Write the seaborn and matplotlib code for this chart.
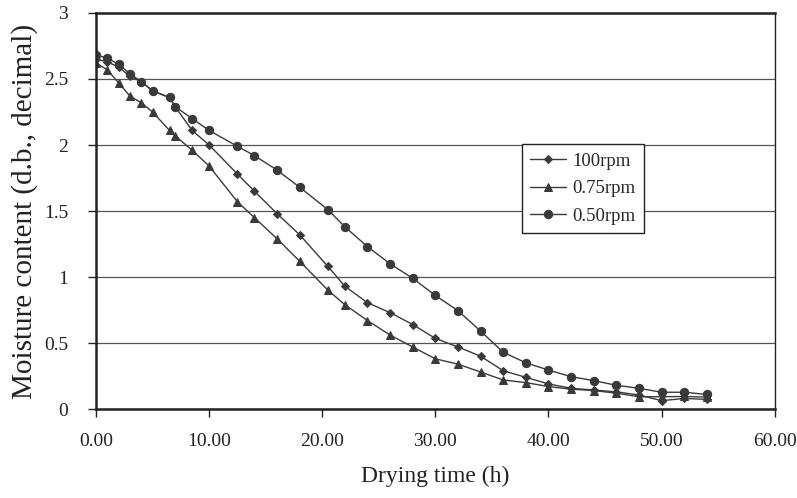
import matplotlib
matplotlib.use("Agg")
import matplotlib.pyplot as plt
import seaborn as sns
import pandas as pd
import numpy as np

# ---- data ----
time_h = [0, 1, 2, 3, 4, 5, 6.5, 7, 8.5, 10, 12.5, 14, 16, 18, 20.5, 22, 24, 26,
          28, 30, 32, 34, 36, 38, 40, 42, 44, 46, 48, 50, 52, 54]
rpm100 = [2.65, 2.63, 2.59, 2.52, 2.48, 2.41, 2.36, 2.29, 2.11, 2.00, 1.78, 1.65,
          1.48, 1.32, 1.08, 0.93, 0.805, 0.73, 0.64, 0.535, 0.47, 0.40, 0.29, 0.24,
          0.19, 0.157, 0.144, 0.13, 0.106, 0.063, 0.08, 0.073]
rpm075 = [2.62, 2.57, 2.47, 2.37, 2.32, 2.25, 2.11, 2.07, 1.96, 1.84, 1.57, 1.45,
          1.29, 1.12, 0.90, 0.79, 0.67, 0.56, 0.47, 0.38, 0.34, 0.28, 0.22, 0.20,
          0.17, 0.15, 0.14, 0.12, 0.093, 0.093, 0.095, 0.09]
rpm050 = [2.68, 2.66, 2.61, 2.54, 2.48, 2.41, 2.36, 2.29, 2.20, 2.11, 1.99, 1.92,
          1.81, 1.68, 1.51, 1.38, 1.23, 1.10, 0.99, 0.86, 0.745, 0.59, 0.43, 0.35,
          0.295, 0.245, 0.215, 0.18, 0.157, 0.127, 0.127, 0.11]
series_names = ["100rpm", "0.75rpm", "0.50rpm"]
x_ticks = [0, 10, 20, 30, 40, 50, 60]
y_ticks = [0, 0.5, 1, 1.5, 2, 2.5, 3]
y_tick_labels = ["0", "0.5", "1", "1.5", "2", "2.5", "3"]

df = pd.DataFrame({
    "time": time_h * 3,
    "mc": rpm100 + rpm075 + rpm050,
    "series": [series_names[0]] * len(time_h) + [series_names[1]] * len(time_h)
              + [series_names[2]] * len(time_h),
})

sns.set_theme(style="white")
plt.rcParams['font.family'] = ['Liberation Serif', 'DejaVu Serif']

fig = plt.figure(figsize=(7.97, 4.98), dpi=100)
ax = fig.add_axes([0.1205, 0.1787, 0.8515, 0.7952])

col = "#3a3a3a"
markers = {"100rpm": "D", "0.75rpm": "^", "0.50rpm": "o"}
sizes_m = {"100rpm": 4.2, "0.75rpm": 6, "0.50rpm": 6}
for name in series_names:
    sub = df[df["series"] == name]
    sns.lineplot(data=sub, x="time", y="mc", ax=ax, color=col, lw=1.0,
                 marker=markers[name], markersize=sizes_m[name],
                 markeredgecolor=col, markerfacecolor=col, label=name,
                 estimator=None, sort=False)

ax.set_xlim(0, 60)
ax.set_ylim(0, 3)
ax.set_xticks(x_ticks)
ax.set_xticklabels([f"{v:.2f}" for v in x_ticks])
ax.set_yticks(y_ticks)
ax.set_yticklabels(y_tick_labels)
ax.yaxis.grid(True, color="#555555", lw=0.9)
ax.xaxis.grid(False)
ax.set_axisbelow(True)

for s in ["left", "bottom", "top"]:
    ax.spines[s].set_color("#222222")
    ax.spines[s].set_linewidth(1.8)
ax.spines["right"].set_color("#222222")
ax.spines["right"].set_linewidth(1.0)

ax.tick_params(axis="both", which="major", direction="out", length=6,
               width=1, colors="#222222", labelsize=14, left=True, bottom=True)
ax.tick_params(axis="x", pad=11)
ax.tick_params(axis="y", pad=14)

ax.set_xlabel("Drying time (h)", fontsize=17, color="#222222", labelpad=12)
ax.set_ylabel("Moisture content (d.b., decimal)", fontsize=21, color="#222222",
              labelpad=4)

leg = ax.legend(loc="upper left", bbox_to_anchor=(0.627, 0.669), frameon=True,
                fancybox=False, fontsize=13.5, handlelength=1.9,
                borderaxespad=0, borderpad=0.45, labelspacing=0.55,
                handletextpad=0.35)
leg.get_frame().set_edgecolor("#222222")
leg.get_frame().set_linewidth(1.0)
leg.get_frame().set_facecolor("white")
leg.get_frame().set_alpha(1.0)

fig.savefig("out.png", dpi=100)
